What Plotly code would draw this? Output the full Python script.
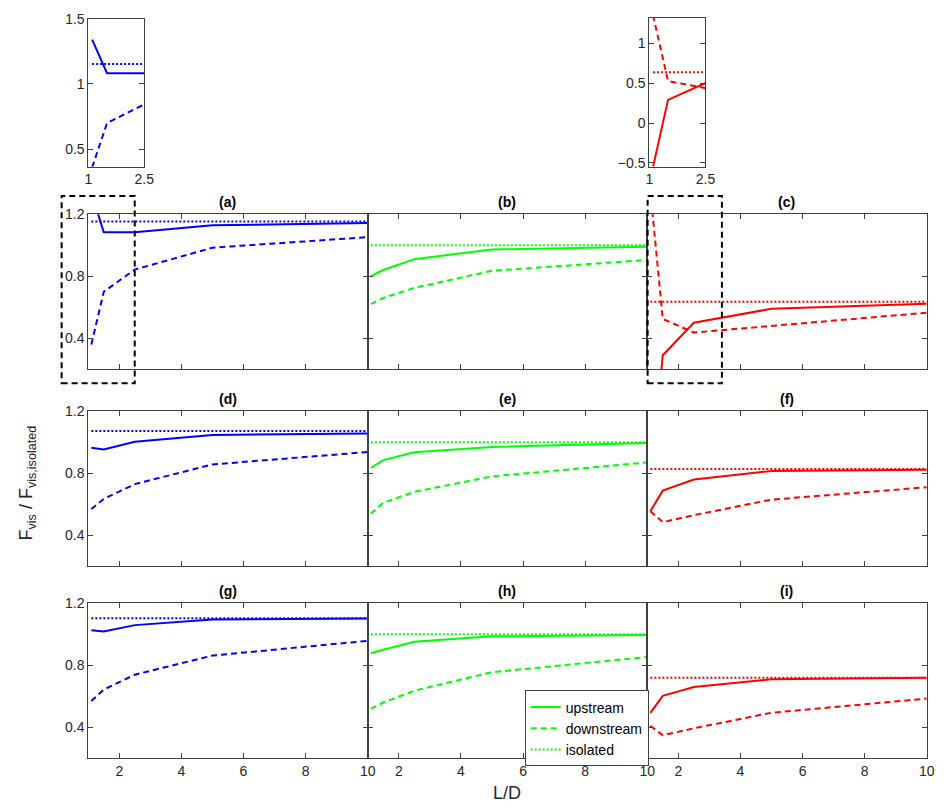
import plotly.graph_objects as go

# ---------------- data ----------------
LD = [1.1, 1.5, 2.5, 5, 10]

# panel values: upstream, downstream, isolated
a_up = [1.34, 1.083, 1.083, 1.128, 1.143]
a_dn = [0.36, 0.70, 0.843, 0.984, 1.052]
a_iso = 1.153

b_up = [0.80, 0.84, 0.91, 0.973, 0.99]
b_dn = [0.62, 0.66, 0.725, 0.835, 0.905]
b_iso = 1.0

c_up = [-0.55, 0.29, 0.50, 0.59, 0.623]
c_dn = [1.35, 0.525, 0.437, 0.48, 0.565]
c_iso = 0.635

d_up = [0.965, 0.954, 1.003, 1.047, 1.056]
d_dn = [0.569, 0.635, 0.73, 0.857, 0.937]
d_iso = 1.073

e_up = [0.834, 0.885, 0.935, 0.97, 0.995]
e_dn = [0.54, 0.61, 0.68, 0.78, 0.87]
e_iso = 1.0

f_up = [0.555, 0.688, 0.76, 0.815, 0.823]
f_dn = [0.555, 0.485, 0.53, 0.63, 0.71]
f_iso = 0.827

g_up = [1.025, 1.017, 1.058, 1.094, 1.10]
g_dn = [0.569, 0.643, 0.739, 0.862, 0.957]
g_iso = 1.103

h_up = [0.877, 0.90, 0.951, 0.986, 0.995]
h_dn = [0.52, 0.56, 0.636, 0.755, 0.853]
h_iso = 1.0

i_up = [0.493, 0.603, 0.66, 0.709, 0.72]
i_dn = [0.41, 0.349, 0.394, 0.494, 0.585]
i_iso = 0.72

panels = [
    ("(a)", a_up, a_dn, a_iso, "#0000FF"),
    ("(b)", b_up, b_dn, b_iso, "#00FF00"),
    ("(c)", c_up, c_dn, c_iso, "#FF0000"),
    ("(d)", d_up, d_dn, d_iso, "#0000FF"),
    ("(e)", e_up, e_dn, e_iso, "#00FF00"),
    ("(f)", f_up, f_dn, f_iso, "#FF0000"),
    ("(g)", g_up, g_dn, g_iso, "#0000FF"),
    ("(h)", h_up, h_dn, h_iso, "#00FF00"),
    ("(i)", i_up, i_dn, i_iso, "#FF0000"),
]

x_ticks = [2, 4, 6, 8, 10]
y_ticks = [0.4, 0.8, 1.2]
inset1_yticks = [0.5, 1, 1.5]
inset2_yticks = [-0.5, 0, 0.5, 1]
inset_xticks = [1, 2.5]

# ---------------- layout geometry ----------------
W, H = 946, 811
col_px = [(85.5, 369.2), (369.2, 652.9), (652.9, 936.6)]
row_px = [(209.3, 366.7), (409.3, 566.7), (604.0, 761.7)]
inset_px = [((85.7, 142.3), (11.0, 161.0)), ((655.0, 712.0), (10.0, 161.0))]

def px2x(p):
    return p / W

def px2y(p):
    return 1 - p / H

FONT = "Liberation Sans, Arial, Helvetica, sans-serif"
AXC = "#404040"
TXT = "#262626"

fig = go.Figure()
layout = dict(
    width=W, height=H, margin=dict(l=0, r=0, t=0, b=0),
    paper_bgcolor="white", plot_bgcolor="white",
    font=dict(family=FONT, size=14, color=TXT),
    showlegend=True,
)

def axis_common():
    return dict(showline=True, linecolor=AXC, linewidth=1, mirror="ticks",
                ticks="inside", ticklen=5, tickcolor=AXC, showgrid=False,
                zeroline=False, tickfont=dict(family=FONT, size=14, color=TXT))

annotations = []
dash_style = "6px,4px"
dot_style = "2px,2px"

for k, (title, up, dn, iso, col) in enumerate(panels):
    r, c = divmod(k, 3)
    n = k + 1
    xa = "xaxis" if n == 1 else f"xaxis{n}"
    ya = "yaxis" if n == 1 else f"yaxis{n}"
    xref = "x" if n == 1 else f"x{n}"
    yref = "y" if n == 1 else f"y{n}"
    x0, x1 = col_px[c]
    y0, y1 = row_px[r]
    layout[xa] = dict(axis_common(), domain=[px2x(x0), px2x(x1)], range=[1, 10],
                      tickvals=x_ticks, showticklabels=(r == 2), anchor=yref)
    layout[ya] = dict(axis_common(), domain=[px2y(y1), px2y(y0)], range=[0.2, 1.2],
                      tickvals=y_ticks, showticklabels=(c == 0), anchor=xref)
    show = (title == "(h)")
    fig.add_trace(go.Scatter(x=LD, y=up, mode="lines", xaxis=xref, yaxis=yref,
                             line=dict(color=col, width=2), name="upstream",
                             showlegend=show))
    fig.add_trace(go.Scatter(x=LD, y=dn, mode="lines", xaxis=xref, yaxis=yref,
                             line=dict(color=col, width=2, dash=dash_style),
                             name="downstream", showlegend=show))
    fig.add_trace(go.Scatter(x=[1.1, 10], y=[iso, iso], mode="lines", xaxis=xref, yaxis=yref,
                             line=dict(color=col, width=2, dash=dot_style),
                             name="isolated", showlegend=show))
    annotations.append(dict(text=f"<b>{title}</b>", xref="paper", yref="paper",
                            x=px2x((x0 + x1) / 2), y=px2y(y0 - 2), xanchor="center",
                            yanchor="bottom", showarrow=False,
                            font=dict(family=FONT, size=14, color="black")))

# insets
inset_src = [(panels[0], inset1_yticks, [0.366, 1.5]), (panels[2], inset2_yticks, [-0.546, 1.317])]
for j, ((title, up, dn, iso, col), yt, yr) in enumerate(inset_src):
    n = 10 + j
    xref, yref = f"x{n}", f"y{n}"
    (x0, x1), (y0, y1) = inset_px[j]
    layout[f"xaxis{n}"] = dict(axis_common(), domain=[px2x(x0), px2x(x1)], range=[1, 2.5],
                               tickvals=inset_xticks, ticktext=["1", "2.5"],
                               showticklabels=True, anchor=yref)
    layout[f"yaxis{n}"] = dict(axis_common(), domain=[px2y(y1), px2y(y0)], range=yr,
                               tickvals=yt, showticklabels=True, anchor=xref)
    fig.add_trace(go.Scatter(x=LD, y=up, mode="lines", xaxis=xref, yaxis=yref,
                             line=dict(color=col, width=2), showlegend=False))
    fig.add_trace(go.Scatter(x=LD, y=dn, mode="lines", xaxis=xref, yaxis=yref,
                             line=dict(color=col, width=2, dash=dash_style), showlegend=False))
    fig.add_trace(go.Scatter(x=[1.1, 10], y=[iso, iso], mode="lines", xaxis=xref, yaxis=yref,
                             line=dict(color=col, width=2, dash=dot_style), showlegend=False))

# dashed zoom rectangles
shapes = []
for (rx0, rx1) in [(58.5, 132.7), (653.3, 728.7)]:
    shapes.append(dict(type="rect", xref="paper", yref="paper",
                       x0=px2x(rx0), x1=px2x(rx1), y0=px2y(381), y1=px2y(190.7),
                       line=dict(color="black", width=2, dash="6px,4px"),
                       fillcolor="rgba(0,0,0,0)", layer="above"))

# axis labels
annotations.append(dict(text="L/D", xref="paper", yref="paper", x=px2x(511), y=px2y(797),
                        xanchor="center", yanchor="middle", showarrow=False,
                        font=dict(family=FONT, size=18, color=TXT)))
annotations.append(dict(text="F<sub>vis</sub> / F<sub>vis,isolated</sub>", xref="paper",
                        yref="paper", x=px2x(24), y=px2y(482), xanchor="center",
                        yanchor="middle", textangle=-90, showarrow=False,
                        font=dict(family=FONT, size=18, color=TXT)))

layout["annotations"] = annotations
layout["shapes"] = shapes
layout["legend"] = dict(x=px2x(528.5), y=px2y(692.7), xanchor="left", yanchor="top",
                        bgcolor="white", bordercolor=AXC, borderwidth=1,
                        font=dict(family=FONT, size=14, color="black"),
                        tracegroupgap=0, itemwidth=30)

fig.update_layout(**layout)
fig.write_html("out.html")
